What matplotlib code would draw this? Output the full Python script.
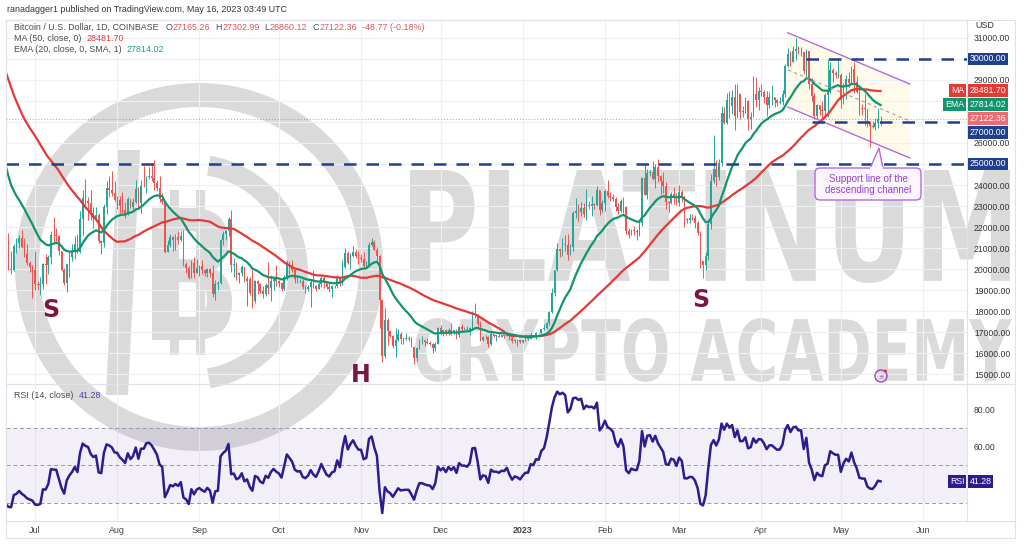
import numpy as np
import pandas as pd
import matplotlib
matplotlib.use("Agg")
import matplotlib.pyplot as plt
from matplotlib.patches import Wedge, Rectangle, FancyBboxPatch, Polygon, PathPatch, Circle
from matplotlib.path import Path
from matplotlib.textpath import TextPath
from matplotlib.font_manager import FontProperties
from matplotlib.transforms import blended_transform_factory

plt.rcParams['font.family'] = ['Liberation Sans', 'DejaVu Sans']

# ---- data (BTC/USD daily, values in thousands of USD) ----
first_day = "2022-05-01"

# daily closes from 2022-05-01 to 2023-05-16 (earlier days only feed the MA / EMA / RSI)
close_k = [
    # May 2022
    38.47, 38.53, 37.75, 39.69, 36.55, 36.01, 35.47, 34.06, 30.10, 31.01,
    28.94, 29.05, 29.28, 30.08, 31.31, 29.86, 30.43, 28.70, 30.30, 29.20,
    29.43, 30.28, 29.10, 29.65, 29.54, 29.20, 28.63, 29.03, 29.44, 31.73, 31.79,
    # Jun
    29.80, 30.46, 29.70, 29.86, 29.91, 31.37, 31.13, 30.20, 30.11, 29.09,
    28.42, 26.57, 22.49, 22.14, 22.58, 20.38, 20.45, 19.01, 20.56, 20.71,
    20.00, 19.96, 21.11, 21.23, 21.50, 21.03, 20.73, 20.28, 20.10, 19.93,
    # Jul
    19.30, 19.24, 19.30, 20.23, 20.19, 20.55, 21.64, 21.60, 21.59, 20.84,
    19.96, 19.33, 20.23, 20.58, 20.83, 21.20, 20.79, 22.40, 23.40, 23.23,
    23.16, 22.68, 22.45, 22.58, 21.31, 21.25, 22.95, 23.85, 23.77, 23.64, 23.30,
    # Aug
    23.27, 22.98, 22.82, 22.62, 23.31, 22.96, 23.18, 23.81, 23.15, 23.95,
    23.94, 24.40, 24.44, 24.31, 24.10, 23.86, 23.34, 23.21, 20.83, 21.14,
    21.52, 21.40, 21.53, 21.37, 21.56, 20.24, 20.04, 19.55, 20.29, 19.80, 20.05,
    # Sep
    20.13, 19.95, 19.83, 20.00, 19.80, 18.79, 19.29, 19.32, 21.37, 21.65,
    21.83, 22.40, 20.18, 20.23, 19.70, 19.80, 20.11, 19.42, 19.54, 18.88,
    18.49, 19.41, 19.30, 18.93, 18.80, 19.23, 19.08, 19.41, 19.59, 19.42,
    # Oct
    19.31, 19.06, 19.63, 20.34, 20.16, 19.96, 19.53, 19.42, 19.44, 19.13,
    19.06, 19.16, 19.38, 19.18, 19.07, 19.27, 19.55, 19.33, 19.12, 19.04,
    19.17, 19.21, 19.57, 19.34, 20.09, 20.77, 20.29, 20.60, 20.82, 20.63, 20.49,
    # Nov
    20.48, 20.15, 20.21, 21.15, 21.30, 20.92, 20.60, 18.54, 15.88, 17.59,
    17.05, 16.82, 16.33, 16.62, 16.90, 16.66, 16.69, 16.70, 16.69, 16.28,
    15.78, 16.23, 16.60, 16.60, 16.52, 16.46, 16.44, 16.22, 16.44, 17.17,
    # Dec
    16.98, 17.09, 16.89, 17.11, 16.97, 17.09, 16.84, 17.23, 17.13, 17.13,
    17.09, 17.21, 17.79, 17.81, 17.36, 16.63, 16.78, 16.74, 16.44, 16.90,
    16.82, 16.82, 16.78, 16.84, 16.83, 16.92, 16.71, 16.55, 16.63, 16.60, 16.54,
    # Jan 2023
    16.62, 16.68, 16.68, 16.85, 16.83, 16.95, 16.94, 17.12, 17.18, 17.44,
    17.94, 18.85, 19.93, 20.95, 20.88, 21.19, 21.13, 20.68, 21.07, 22.67,
    22.78, 22.71, 22.92, 22.61, 23.06, 23.01, 23.08, 23.03, 23.74, 22.83, 23.13,
    # Feb
    23.73, 23.49, 23.43, 23.33, 22.93, 22.76, 23.24, 22.96, 21.80, 21.63,
    21.86, 21.79, 21.78, 22.20, 24.33, 23.52, 24.57, 24.63, 24.28, 24.84,
    24.44, 24.19, 23.95, 23.19, 23.16, 23.56, 23.49, 23.14,
    # Mar
    23.65, 23.47, 22.36, 22.35, 22.43, 22.41, 22.20, 21.70, 20.36, 20.19,
    20.63, 22.16, 24.20, 24.75, 24.38, 25.05, 27.42, 26.97, 28.04, 27.77,
    28.17, 27.30, 28.33, 27.48, 27.49, 27.99, 27.14, 27.26, 28.35, 28.03, 28.47,
    # Apr
    28.45, 28.20, 27.80, 28.17, 28.18, 28.04, 27.92, 27.95, 28.33, 29.65,
    30.23, 29.88, 30.39, 30.48, 30.31, 30.32, 29.43, 30.39, 28.80, 28.25,
    27.27, 27.82, 27.59, 27.52, 28.30, 28.42, 29.47, 29.33, 29.23, 29.23,
    # May
    28.07, 28.68, 29.03, 28.85, 29.53, 28.90, 28.45, 27.69, 27.63, 27.62,
    26.99, 26.80, 26.78, 26.93, 27.165, 27.122,
]

# daily highs, 2022-06-19 to 2023-05-16 (the visible candles)
high_k = [
    20.80, 21.00, 21.70, 20.85, 21.20, 21.50, 21.60, 21.85, 21.50, 21.20, 20.40, 20.20,
    20.85, 19.43, 19.62, 20.30, 20.73, 20.67, 21.82, 22.50, 21.95, 21.60,
    20.85, 20.05, 20.25, 20.88, 21.18, 21.58, 21.65, 22.75, 23.75, 24.27,
    23.42, 23.75, 22.95, 22.96, 22.66, 21.40, 23.08, 24.20, 24.42, 24.65, 24.18,
    23.50, 23.46, 23.65, 23.21, 23.45, 23.35, 23.36, 24.25, 23.92, 24.22,
    24.92, 24.45, 24.88, 25.05, 25.20, 24.25, 24.45, 23.60, 23.21, 21.38,
    21.68, 21.55, 21.65, 21.80, 21.80, 21.85, 20.35, 20.15, 20.42, 20.55, 20.48,
    20.20, 20.44, 19.99, 20.05, 20.05, 20.18, 19.46, 19.45, 21.42, 21.80,
    21.86, 22.48, 22.80, 20.54, 20.33, 19.88, 20.18, 20.10, 19.68, 19.63,
    19.95, 19.49, 19.48, 19.31, 19.18, 19.32, 20.35, 19.72, 19.63, 20.18,
    19.48, 19.40, 19.72, 20.45, 20.36, 20.45, 20.06, 19.60, 19.54, 19.52,
    19.25, 19.22, 19.52, 19.95, 19.22, 19.40, 19.68, 19.70, 19.35, 19.35,
    19.25, 19.25, 19.70, 19.60, 20.42, 21.01, 20.86, 20.75, 21.08, 20.93, 20.85,
    20.70, 20.80, 20.39, 21.30, 21.48, 21.36, 21.05, 20.67, 18.59, 18.14,
    17.66, 17.07, 16.88, 17.19, 17.13, 17.00, 16.74, 16.94, 16.80, 16.76,
    16.29, 16.30, 16.65, 16.81, 16.62, 16.70, 16.59, 16.49, 16.53, 17.25,
    17.32, 17.10, 17.15, 17.20, 17.42, 17.11, 17.13, 17.30, 17.36, 17.23,
    17.27, 17.24, 18.00, 18.39, 17.85, 17.53, 16.80, 16.86, 16.82, 17.06,
    16.90, 16.87, 16.95, 16.86, 16.86, 16.94, 16.96, 16.78, 16.65, 16.65, 16.64,
    16.63, 16.76, 16.77, 17.00, 16.88, 16.99, 16.96, 17.15, 17.39, 17.49,
    18.00, 19.10, 19.97, 21.26, 21.00, 21.46, 21.62, 21.65, 21.19, 22.75,
    23.37, 23.08, 23.17, 23.16, 23.80, 23.26, 23.49, 23.16, 23.95, 23.78, 23.30,
    23.81, 24.25, 23.69, 23.59, 23.43, 23.16, 23.35, 23.45, 22.99, 21.93,
    21.90, 22.06, 21.89, 22.30, 24.37, 25.03, 24.75, 24.70, 25.12, 25.02,
    25.25, 24.47, 24.60, 24.13, 23.22, 23.69, 23.89, 23.60,
    24.00, 23.78, 23.48, 22.41, 22.62, 22.60, 22.55, 22.27, 21.80, 20.36,
    20.79, 22.25, 24.50, 26.39, 25.20, 25.22, 27.76, 27.72, 28.40, 28.47,
    28.52, 28.80, 28.79, 28.39, 27.77, 28.20, 28.04, 27.49, 29.18, 29.16, 28.65,
    28.80, 28.53, 28.48, 28.44, 28.76, 28.18, 28.10, 28.17, 28.54, 29.77,
    30.50, 30.40, 30.62, 31.00, 30.60, 30.55, 30.32, 30.48, 30.40, 29.10,
    28.37, 27.88, 27.82, 28.00, 28.40, 30.02, 29.88, 29.57, 29.45, 29.96,
    29.34, 28.88, 29.26, 29.37, 29.68, 29.84, 29.17, 28.66, 27.85, 28.32,
    27.64, 27.05, 27.05, 27.20, 27.66, 27.303,
]

# daily lows, same days as high_k
low_k = [
    17.96, 19.65, 19.96, 19.78, 19.90, 20.75, 21.00, 20.98, 20.55, 20.20, 19.85, 18.63,
    18.98, 19.00, 18.78, 19.06, 19.30, 19.78, 20.25, 21.20, 21.35, 20.65,
    19.90, 19.24, 18.92, 19.62, 20.40, 20.48, 20.76, 20.75, 21.60, 22.90,
    22.34, 22.34, 21.95, 22.30, 21.25, 20.72, 21.04, 22.60, 23.45, 23.50, 23.23,
    22.87, 22.67, 22.69, 22.43, 22.58, 22.92, 22.84, 23.15, 22.87, 22.68,
    23.90, 23.60, 24.30, 24.20, 23.78, 23.70, 23.20, 23.10, 20.78, 20.80,
    21.05, 20.88, 20.90, 21.18, 21.32, 20.12, 19.82, 19.53, 19.58, 19.55, 19.80,
    19.65, 19.75, 19.65, 19.60, 19.64, 18.68, 18.54, 19.01, 19.30, 21.12,
    21.36, 21.55, 19.86, 19.62, 19.50, 19.33, 19.68, 19.38, 18.23, 18.75,
    18.16, 18.38, 18.82, 18.85, 18.64, 18.70, 18.82, 18.50, 19.00, 19.18,
    19.16, 18.96, 19.00, 19.50, 19.74, 19.86, 19.32, 19.32, 19.32, 19.04,
    18.87, 18.97, 18.19, 19.08, 18.97, 19.06, 19.16, 19.10, 19.05, 18.92,
    18.68, 19.11, 19.08, 19.18, 19.24, 20.06, 20.23, 20.00, 20.56, 20.52, 20.23,
    20.35, 20.06, 20.03, 20.19, 21.08, 20.90, 20.39, 17.17, 15.59, 15.75,
    16.36, 16.75, 16.26, 15.82, 16.55, 16.41, 16.41, 16.62, 16.55, 16.27,
    15.48, 15.62, 16.17, 16.45, 16.35, 16.41, 16.40, 15.98, 16.11, 16.43,
    16.86, 16.79, 16.86, 16.88, 16.87, 16.90, 16.68, 16.74, 17.06, 17.09,
    17.07, 16.87, 17.09, 17.66, 17.28, 16.58, 16.58, 16.68, 16.27, 16.40,
    16.74, 16.56, 16.76, 16.78, 16.73, 16.79, 16.60, 16.46, 16.50, 16.34, 16.49,
    16.50, 16.55, 16.60, 16.66, 16.75, 16.67, 16.91, 16.91, 17.11, 17.15,
    17.32, 17.92, 18.70, 19.89, 20.58, 20.62, 20.86, 20.41, 20.66, 20.87,
    22.42, 22.30, 22.52, 22.46, 22.32, 22.85, 22.54, 22.88, 23.00, 22.55, 22.72,
    22.76, 23.37, 23.22, 23.26, 22.75, 22.64, 22.73, 22.68, 21.69, 21.48,
    21.60, 21.63, 21.37, 21.55, 22.05, 23.52, 23.35, 24.42, 24.26, 23.87,
    24.15, 23.58, 23.63, 22.85, 22.73, 23.08, 23.10, 23.03,
    23.02, 23.20, 22.00, 22.18, 22.20, 22.32, 21.93, 21.60, 20.05, 19.57,
    19.93, 20.42, 21.90, 24.10, 23.95, 24.22, 24.90, 26.90, 26.90, 27.20,
    27.36, 26.60, 27.17, 27.15, 27.22, 27.45, 26.64, 26.66, 27.24, 27.73, 27.55,
    28.26, 27.90, 27.27, 27.67, 27.83, 27.71, 27.77, 27.88, 27.81, 28.17,
    29.61, 29.68, 29.87, 29.95, 30.24, 30.13, 29.27, 29.10, 28.58, 28.02,
    27.13, 27.13, 27.34, 26.97, 27.21, 27.25, 28.38, 28.90, 29.08, 29.10,
    27.66, 27.88, 28.11, 28.69, 28.81, 28.40, 28.40, 27.33, 27.34, 26.86,
    26.75, 25.81, 26.70, 26.61, 26.73, 26.860,
]

# header values shown on the chart
ohlc_last = [27165.26, 27302.99, 26860.12, 27122.36]
change_last = -48.77
change_pct = -0.18
ma_last = 28481.70
ema_last = 27814.02
rsi_last = 41.28

# horizontal levels drawn by the author (price, start date or None for full width)
levels = [30000, 27000, 25000]
level_starts = ["2023-04-18", "2023-04-20", None]

# descending channel end points (date, price)
channel_upper = [("2023-04-11", 31250), ("2023-05-27", 28810)]
channel_lower = [("2023-04-11", 27710), ("2023-05-27", 25290)]

# inverse head and shoulders labels
pattern_text = ["S", "H", "S"]
pattern_dates = ["2022-07-07", "2022-11-01", "2023-03-09"]
pattern_prices = [18050, 14950, 18520]

# price ticks hidden behind the axis boxes
hidden_ticks = [25000, 27000, 28000, 30000]

# ---- colours ----
GREEN = '#26a69a'
RED = '#ef5350'
MA_RED = '#e53935'
EMA_GREEN = '#12946e'
BLUE = '#1f3f8f'
PURPLE = '#b36bdb'
RSI_COL = '#2b1d8e'
MAROON = '#7a1747'
WM = '#dadada'

W, H = 1024, 547


def fx(px):
    return px / W


def fy(py):
    return 1 - py / H


t0 = pd.Timestamp(first_day)


def day_of(d):
    return (pd.Timestamp(d) - t0).days


# ---- indicators ----
close = np.array(close_k) * 1000
days = np.arange(len(close))
s = pd.Series(close)
ma50 = s.rolling(50).mean()
ema20 = s.ewm(span=20, adjust=False).mean()
delta = s.diff()
gain = delta.clip(lower=0).ewm(alpha=1 / 14, adjust=False).mean()
loss = (-delta.clip(upper=0)).ewm(alpha=1 / 14, adjust=False).mean()
rsi = 100 - 100 / (1 + gain / loss)

vis = days[len(close) - len(high_k):]
c = close[vis]
o = close[vis - 1]
h = np.maximum(np.array(high_k) * 1000, np.maximum(o, c))
l = np.minimum(np.array(low_k) * 1000, np.minimum(o, c))
col = np.where(c >= o, GREEN, RED)

# ---- figure ----
fig = plt.figure(figsize=(W / 100, H / 100), dpi=100)
fig.patch.set_facecolor('white')

# background layer with the watermark
bg = fig.add_axes([0, 0, 1, 1], zorder=0)
bg.set_xlim(0, W)
bg.set_ylim(H, 0)
bg.axis('off')


def stretched_text(axis, txt, x0, x1, y_top, y_bot, color):
    tp = TextPath((0, 0), txt, size=100, prop=FontProperties(family='DejaVu Sans', weight='bold'))
    ext = tp.get_extents()
    v = tp.vertices
    sx = (x1 - x0) / ext.width
    sy = (y_bot - y_top) / ext.height
    nv = np.column_stack([x0 + (v[:, 0] - ext.x0) * sx, y_bot - (v[:, 1] - ext.y0) * sy])
    axis.add_patch(PathPatch(Path(nv, tp.codes), fc=color, ec='none'))


bg.add_patch(Wedge((199, 267), 184, 0, 360, width=24, fc=WM, ec='none'))
bg.add_patch(Wedge((190, 272), 118, -80, 80, width=20, fc=WM, ec='none'))
bg.add_patch(Polygon([(118, 150), (140, 150), (128, 395), (106, 395)], fc=WM, ec='none'))
bg.add_patch(Rectangle((170, 190), 9, 165, fc=WM, ec='none'))
bg.add_patch(Rectangle((196, 190), 9, 165, fc=WM, ec='none'))
stretched_text(bg, 'B', 152, 232, 208, 340, WM)
stretched_text(bg, 'PLATINUM', 410, 1010, 170, 283, WM)
stretched_text(bg, 'CRYPTO ACADEMY', 415, 1012, 318, 382, WM)

# main price panel
ax = fig.add_axes([fx(6), fy(384), fx(967) - fx(6), fy(20) - fy(384)], zorder=2)
ax.set_facecolor('none')
xmin, xmax = 50.06, 412.6
ax.set_xlim(xmin, xmax)
ax.set_ylim(14524, 31857)

month_starts = pd.date_range('2022-07-01', '2023-06-01', freq='MS')
month_idx = [day_of(m) for m in month_starts]
for m in month_idx:
    ax.axvline(m, color='#eef0f5', lw=0.8, zorder=0)
ax.set_yticks(np.arange(15000, 32000, 1000))
ax.yaxis.tick_right()
ax.yaxis.set_major_formatter(plt.FuncFormatter(
    lambda v, p: "" if round(v) in hidden_ticks else f"{v:.2f}"))
ax.tick_params(axis='y', length=0, pad=5, labelsize=6.2, labelcolor='#333333')
ax.tick_params(axis='x', length=0, labelbottom=False)
ax.grid(axis='y', color='#eef0f5', lw=0.8, zorder=0)
for sp in ax.spines.values():
    sp.set_color('#dfe2ea')
    sp.set_linewidth(0.8)

# channel
cu = [(day_of(d), p) for d, p in channel_upper]
cl = [(day_of(d), p) for d, p in channel_lower]
ax.fill([cu[0][0], cu[1][0], cl[1][0], cl[0][0]], [cu[0][1], cu[1][1], cl[1][1], cl[0][1]],
        color='#fff6d8', alpha=0.55, lw=0, zorder=1)
ax.plot([cu[0][0], cu[1][0]], [cu[0][1], cu[1][1]], color=PURPLE, lw=1, zorder=6)
ax.plot([cl[0][0], cl[1][0]], [cl[0][1], cl[1][1]], color=PURPLE, lw=1, zorder=6)
ax.plot([cu[0][0], cu[1][0]], [(cu[0][1] + cl[0][1]) / 2, (cu[1][1] + cl[1][1]) / 2],
        color='#a0a0a0', lw=0.8, ls=(0, (3, 3)), zorder=6)

# candles
ax.vlines(vis, l, h, colors=col, lw=0.7, zorder=3)
ax.bar(vis, np.maximum(np.abs(c - o), 30), bottom=np.minimum(o, c), width=0.62,
       color=col, linewidth=0, zorder=4)

ax.plot(days, ma50, color=MA_RED, lw=1.6, zorder=5)
ax.plot(days, ema20, color=EMA_GREEN, lw=1.6, zorder=5)

# current price line
ax.axhline(ohlc_last[3], color=RED, lw=0.7, ls=(0, (1, 2)), alpha=0.7, zorder=2)

# levels
for lev, st in zip(levels, level_starts):
    x0 = xmin if st is None else day_of(st)
    ax.hlines(lev, x0, xmax, colors=BLUE, lw=1.8, linestyles=(0, (5, 4)), zorder=6)

for txt, d, p in zip(pattern_text, pattern_dates, pattern_prices):
    ax.text(day_of(d), p, txt, fontsize=17, fontweight='bold', color=MAROON,
            ha='center', va='center', family='DejaVu Sans', zorder=7)

# right axis boxes
tr = blended_transform_factory(ax.transAxes, ax.transData)


def axis_box(axis, trans, y, txt, fc, dy=0, left=False):
    axis.annotate(txt, xy=(1, y), xycoords=trans, xytext=(-1.8 if left else 1.8, dy),
                  textcoords='offset points', ha='right' if left else 'left', va='center',
                  fontsize=6.3, color='white', annotation_clip=False, zorder=10,
                  bbox=dict(boxstyle='square,pad=0.22', fc=fc, ec='none'))


axis_box(ax, tr, levels[0], f"{levels[0]:.2f}", BLUE)
axis_box(ax, tr, ma_last, f"{ma_last:.2f}", MA_RED)
axis_box(ax, tr, ma_last, "MA", MA_RED, left=True)
axis_box(ax, tr, ema_last, f"{ema_last:.2f}", EMA_GREEN)
axis_box(ax, tr, ema_last, "EMA", EMA_GREEN, left=True)
axis_box(ax, tr, ohlc_last[3], f"{ohlc_last[3]:.2f}", '#f06a6f', dy=0.5)
axis_box(ax, tr, levels[1], f"{levels[1]:.2f}", BLUE, dy=-7.5)
axis_box(ax, tr, levels[2], f"{levels[2]:.2f}", BLUE)

# RSI panel
ax2 = fig.add_axes([fx(6), fy(520.7), fx(967) - fx(6), fy(384) - fy(520.7)], zorder=2)
ax2.set_facecolor('none')
ax2.set_xlim(xmin, xmax)
ax2.set_ylim(20.3, 93.4)
for m in month_idx:
    ax2.axvline(m, color='#eef0f5', lw=0.8, zorder=0)
ax2.axhspan(30, 70, color='#7e57c2', alpha=0.09, lw=0, zorder=1)
for lv in (30, 50, 70):
    ax2.axhline(lv, color='#9598a1', lw=0.7, ls=(0, (4, 3)), zorder=2)
ax2.plot(days, rsi, color=RSI_COL, lw=1.8, zorder=4)
ax2.set_yticks([60, 80])
ax2.yaxis.tick_right()
ax2.yaxis.set_major_formatter(plt.FuncFormatter(lambda v, p: f"{v:.2f}"))
ax2.tick_params(axis='y', length=0, pad=5, labelsize=6.2, labelcolor='#333333')
ax2.set_xticks(month_idx)
ax2.set_xticklabels(['2023' if m.month == 1 else m.strftime('%b') for m in month_starts])
ax2.tick_params(axis='x', length=0, pad=4, labelsize=6.4, labelcolor='#444444')
for lab, m in zip(ax2.get_xticklabels(), month_starts):
    if m.month == 1:
        lab.set_fontweight('bold')
for sp in ax2.spines.values():
    sp.set_color('#dfe2ea')
    sp.set_linewidth(0.8)
tr2 = blended_transform_factory(ax2.transAxes, ax2.transData)
axis_box(ax2, tr2, rsi_last, f"{rsi_last:.2f}", RSI_COL)
axis_box(ax2, tr2, rsi_last, "RSI", RSI_COL, left=True)

# foreground layer: frame, header, callout
fg = fig.add_axes([0, 0, 1, 1], zorder=5)
fg.set_xlim(0, W)
fg.set_ylim(H, 0)
fg.axis('off')
fg.patch.set_alpha(0)
fg.add_patch(Rectangle((6, 20), 1009, 518, fill=False, ec='#dfe2ea', lw=0.8))
fg.plot([967, 1015], [384, 384], color='#dfe2ea', lw=0.8)
fg.plot([967, 1015], [520.7, 520.7], color='#dfe2ea', lw=0.8)

fg.add_patch(FancyBboxPatch((815, 168), 106, 32, boxstyle='round,pad=0,rounding_size=5',
                            fc='#fbf5fd', ec=PURPLE, lw=1))
fg.add_patch(Polygon([(870, 168.6), (879, 148), (883, 168.6)], closed=False, fc='#fbf5fd', ec=PURPLE, lw=1))
fg.plot([870.6, 882.4], [168.2, 168.2], color='#fbf5fd', lw=1.6)
fg.text(868, 184.5, "Support line of the\ndescending channel", ha='center', va='center',
        fontsize=7, color='#9a3fc6', linespacing=1.05)

fg.add_patch(Circle((881, 376), 6, fill=False, ec='#a23fc6', lw=1))
fg.text(881, 376.5, '\u26a1', ha='center', va='center', fontsize=5.5, color='#a23fc6', family='DejaVu Sans')
fg.add_patch(Circle((885.5, 371), 1.6, fc='#e53935', ec='none'))

fg.text(975, 26, "USD", fontsize=6.4, color='#333333', va='center')

renderer = fig.canvas.get_renderer()


def text_run(pieces, x, y, size=6.4):
    for txt, color, gap in pieces:
        t = fig.text(fx(x), fy(y), txt, color=color, fontsize=size, va='center', zorder=6)
        x += t.get_window_extent(renderer).width + gap


DARK = '#4a4a4a'
VAL = '#e0525c'
fig.text(fx(7), fy(9), "ranadagger1 published on TradingView.com, May 16, 2023 03:49 UTC",
         fontsize=6.4, color='#333333', va='center')
text_run([("Bitcoin / U.S. Dollar, 1D, COINBASE", DARK, 7),
          ("O", DARK, 0.5), (f"{ohlc_last[0]:.2f}", VAL, 5),
          ("H", DARK, 0.5), (f"{ohlc_last[1]:.2f}", VAL, 5),
          ("L", DARK, 0.5), (f"{ohlc_last[2]:.2f}", VAL, 5),
          ("C", DARK, 0.5), (f"{ohlc_last[3]:.2f}", VAL, 5),
          (f"{change_last:.2f} ({change_pct:.2f}%)", VAL, 0)], 14, 27)
text_run([("MA (50, close, 0)", DARK, 5), (f"{ma_last:.2f}", '#e53935', 0)], 14, 38.5)
text_run([("EMA (20, close, 0, SMA, 1)", DARK, 5), (f"{ema_last:.2f}", '#1f9e74', 0)], 14, 50)
text_run([("RSI (14, close)", DARK, 5), (f"{rsi_last:.2f}", '#4a3fb0', 0)], 14, 395)

fig.savefig('out.png', dpi=100)
